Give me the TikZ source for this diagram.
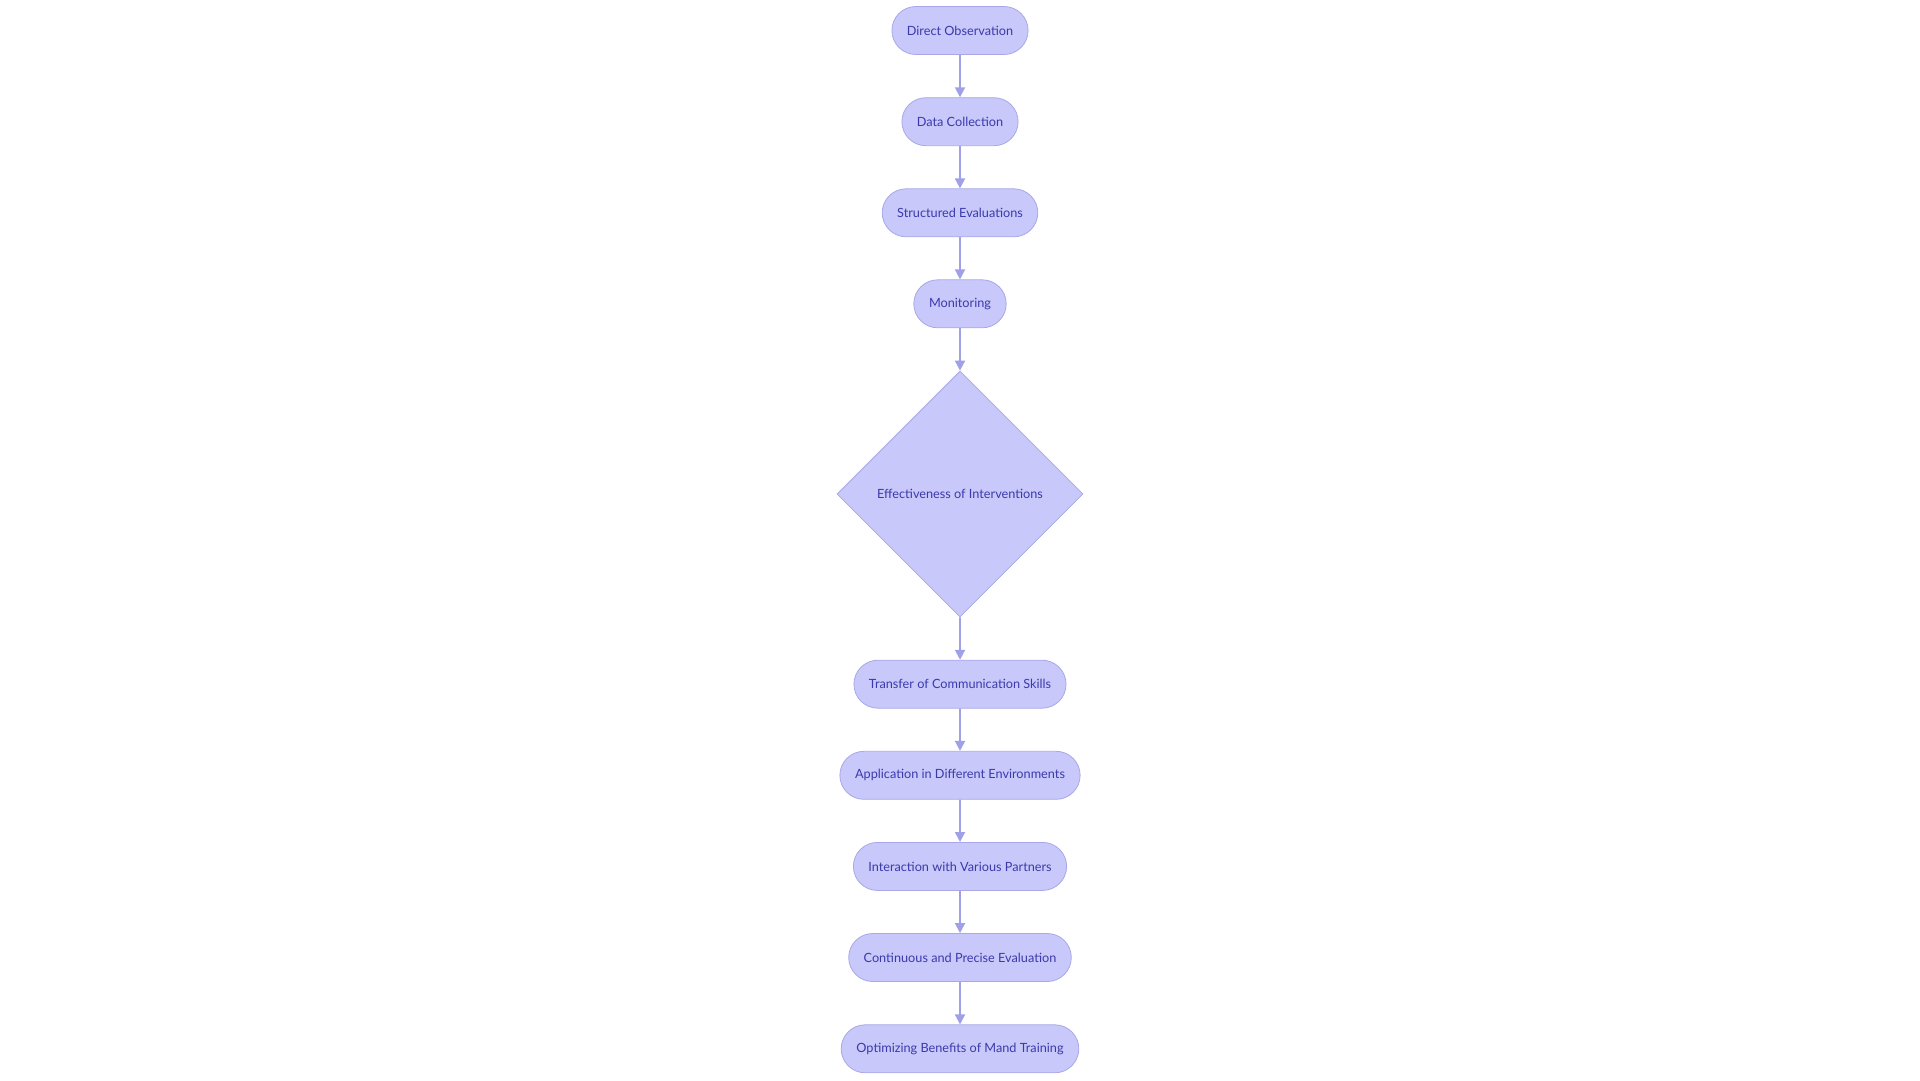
\documentclass[tikz,border=0pt]{standalone}
\usepackage{fontspec}
\setmainfont{Lato}
\usetikzlibrary{shapes.geometric,shapes.misc,arrows.meta}
\definecolor{nodefill}{RGB}{200,200,250}
\definecolor{nodeline}{RGB}{168,168,232}
\definecolor{edgecol}{RGB}{160,160,232}
\definecolor{textcol}{RGB}{58,58,172}
\tikzset{
  pill/.style={rounded rectangle, draw=nodeline, fill=nodefill, line width=0.8pt,
    minimum height=48pt, inner xsep=14.5pt, text=textcol, font=\fontsize{12.7}{14}\selectfont},
  decision/.style={diamond, draw=nodeline, fill=nodefill, line width=0.8pt, aspect=1,
    minimum width=246pt, minimum height=246pt, inner sep=0pt, text=textcol, font=\fontsize{12.7}{14}\selectfont},
  flow/.style={draw=edgecol, line width=1.8pt, -{Triangle[length=10pt,width=10pt]}}
}
\begin{document}
\begin{tikzpicture}[x=1pt,y=-1pt]
\useasboundingbox (0,0) rectangle (1920,1080);
\node[pill] (n1) at (960,30.5) {Direct Observation};
\node[pill] (n2) at (960,121.7) {Data Collection};
\node[pill] (n3) at (960,212.8) {Structured Evaluations};
\node[pill] (n4) at (960,303.8) {Monitoring};
\node[decision] (n5) at (960,494) {Effectiveness of Interventions};
\node[pill] (n6) at (960,684.2) {Transfer of Communication Skills};
\node[pill] (n7) at (960,775.3) {Application in Different Environments};
\node[pill] (n8) at (960,866.4) {Interaction with Various Partners};
\node[pill] (n9) at (960,957.5) {Continuous and Precise Evaluation};
\node[pill] (n10) at (960,1048.8) {Optimizing Benefits of Mand Training};
\foreach \a/\b in {n1/n2,n2/n3,n3/n4,n4/n5,n5/n6,n6/n7,n7/n8,n8/n9,n9/n10}
  \draw[flow] (\a) -- (\b);
\end{tikzpicture}
\end{document}
